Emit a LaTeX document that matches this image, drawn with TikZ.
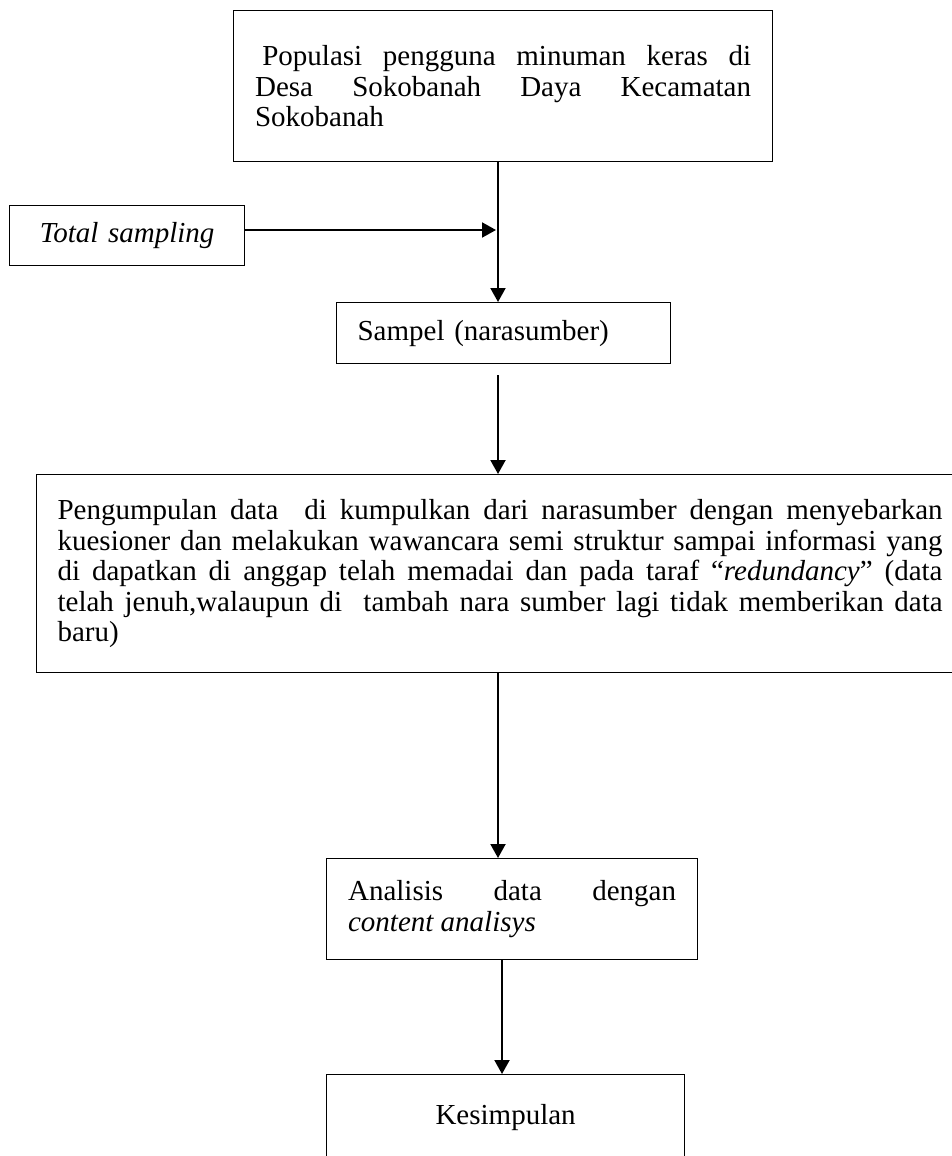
\documentclass[tikz,border=0pt]{standalone}
\usepackage{fontspec}
\setmainfont{Liberation Serif}
\usetikzlibrary{arrows.meta}
\tikzset{
  box/.style={draw, line width=1.2pt, rectangle, inner sep=0pt, anchor=north west,
    font=\fontsize{29}{30.5}\selectfont},
  arr/.style={line width=2pt, -{Triangle[length=14pt,width=15pt]}},
}
\begin{document}
\begin{tikzpicture}[x=1pt,y=-1pt]
\useasboundingbox (0,0) rectangle (952,1156);
\clip (0,0) rectangle (952,1156);
\node[box, minimum width=539, minimum height=151, text width=496, align=justify] (top) at (233,10)
  {\hspace*{0.25em}Populasi pengguna minuman keras di\linebreak Desa Sokobanah Daya Kecamatan\linebreak Sokobanah};
\node[box, minimum width=235, minimum height=60, text width=200, align=center] (ts) at (9,205)
  {\textit{Total sampling}};
\node[box, minimum width=334, minimum height=61, text width=292, align=left] (sampel) at (336,302)
  {Sampel (narasumber)};
\node[box, minimum width=927, minimum height=198, text width=885, align=justify] (big) at (36,474)
  {Pengumpulan data\ \ di kumpulkan dari narasumber dengan menyebarkan\linebreak kuesioner dan melakukan wawancara semi struktur sampai informasi yang\linebreak di dapatkan di anggap telah memadai dan pada taraf “\textit{redundancy}” (data\linebreak telah jenuh,walaupun di\ \ tambah nara sumber lagi tidak memberikan data\linebreak baru)};
\node[box, minimum width=371, minimum height=101, text width=328, align=justify] (anal) at (326,858)
  {Analisis data dengan\linebreak \textit{content analisys}};
\node[box, minimum width=358, minimum height=86, text width=300, align=center] (kes) at (326,1074)
  {Kesimpulan};
\coordinate (x1) at (498,0);
\coordinate (x2) at (502,0);
\coordinate (h) at (244,230);
\coordinate (s3) at (498,375);
\draw[arr] (x1 |- top.south) -- (x1 |- sampel.north);
\draw[arr, shorten >=2pt] (h) -- (h -| x1);
\draw[arr] (s3) -- (x1 |- big.north);
\draw[arr] (x1 |- big.south) -- (x1 |- anal.north);
\draw[arr] (x2 |- anal.south) -- (x2 |- kes.north);
\end{tikzpicture}
\end{document}
